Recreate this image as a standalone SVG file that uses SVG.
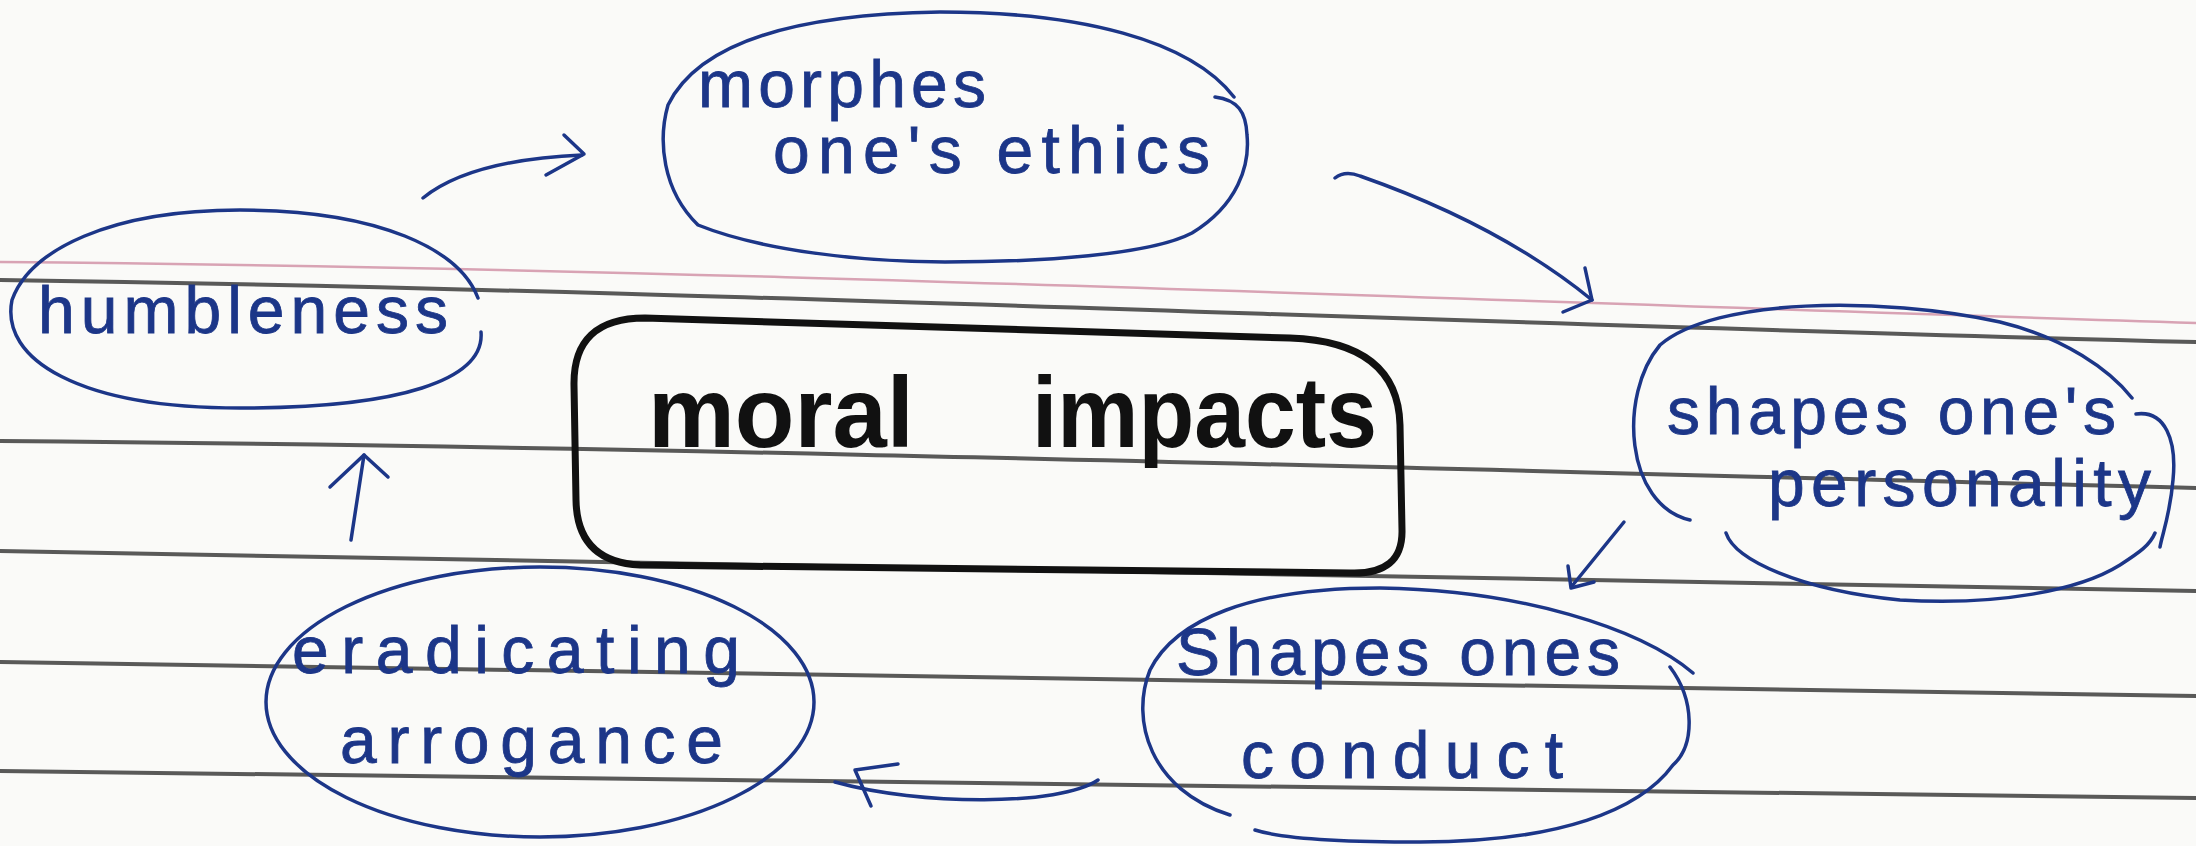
<svg xmlns="http://www.w3.org/2000/svg" width="2196" height="846" viewBox="0 0 2196 846">
<style>
.paper{fill:#fafaf8}
.rule{fill:none;stroke:#3c3c3c;stroke-width:4;stroke-opacity:.85;stroke-linecap:round}
.pink{fill:none;stroke:#d8a3b4;stroke-width:2.5}
.ink{fill:none;stroke:#1c3688;stroke-width:3.5;stroke-linecap:round;stroke-linejoin:round}
.lbl{font-family:"Liberation Sans",Arial,sans-serif;font-size:66px;fill:#1c3688;stroke:#1c3688;stroke-width:0.8}
.main{fill:none;stroke:#111;stroke-width:7;stroke-linecap:round;stroke-linejoin:round}
.mainlbl{font-family:"Liberation Sans",Arial,sans-serif;font-size:100px;font-weight:bold;fill:#111}
</style>
<rect class="paper" x="0" y="0" width="2196" height="846"/>
<g id="paper-lines">
<path class="pink" d="M0,262 C700,268 1400,298 2196,323"/>
<path class="rule" d="M0,280 C700,290 1400,322 2196,342"/>
<path class="rule" d="M0,441 C700,447 1400,468 2196,488"/>
<path class="rule" d="M0,551 C700,562 1400,582 2196,591"/>
<path class="rule" d="M0,662 C700,675 1400,687 2196,696"/>
<path class="rule" d="M0,771 C700,778 1400,790 2196,798"/>
</g>
<g id="connectors">
<path class="ink" d="M423,198 Q470,160 582,155"/>
<path class="ink" d="M564,135 L584,154 L546,175"/>
<path class="ink" d="M1335,178 Q1345,170 1360,176 Q1500,225 1592,300"/>
<path class="ink" d="M1585,268 L1592,300 L1563,312"/>
<path class="ink" d="M1624,522 L1572,586"/>
<path class="ink" d="M1568,566 L1571,588 L1594,582"/>
<path class="ink" d="M1098,780 C1060,806 920,806 835,782"/>
<path class="ink" d="M898,764 L855,770 L871,806"/>
<path class="ink" d="M351,540 L364,455"/>
<path class="ink" d="M330,487 L364,455 L388,477"/>
</g>
<g id="node-humbleness">
<path class="ink" d="M478,298 C460,250 380,210 240,210 C110,210 30,250 12,300 C0,360 80,408 240,408 C400,408 485,380 481,332"/>
<text class="lbl" x="38" y="333" textLength="410" lengthAdjust="spacing">humbleness</text>
</g>
<g id="node-morphes">
<path class="ink" d="M1234,97 C1190,40 1080,12 940,12 C800,14 700,40 668,105 C658,140 662,190 698,225 C760,250 860,262 945,262 C1040,262 1150,255 1192,233 C1238,205 1250,165 1247,135 C1246,112 1238,100 1215,97"/>
<text class="lbl" x="698" y="107" textLength="288" lengthAdjust="spacing">morphes</text>
<text class="lbl" x="773" y="173" textLength="437" lengthAdjust="spacing">one's ethics</text>
</g>
<g id="node-moral-impacts">
<path class="main" d="M645,318 L1290,338 Q1398,342 1400,425 L1402,530 Q1403,575 1350,573 L640,565 Q577,562 576,500 L574,385 Q573,318 645,318 Z"/>
<text class="mainlbl" y="447"><tspan x="648" textLength="266" lengthAdjust="spacingAndGlyphs">moral</tspan> <tspan x="1032" textLength="345" lengthAdjust="spacingAndGlyphs">impacts</tspan></text>
</g>
<g id="node-personality">
<path class="ink" d="M1690,520 C1625,505 1618,395 1660,345 C1715,298 1880,296 2000,322 C2065,338 2110,370 2132,398"/>
<path class="ink" d="M2136,414 C2165,410 2177,440 2173,480 C2170,515 2162,535 2160,547"/>
<path class="ink" d="M1726,533 C1735,560 1800,590 1900,600 C2000,606 2080,590 2120,565 C2140,552 2150,545 2155,533"/>
<text class="lbl" x="1667" y="434" textLength="449" lengthAdjust="spacing">shapes one's</text>
<text class="lbl" x="1768" y="506" textLength="383" lengthAdjust="spacing">personality</text>
</g>
<g id="node-conduct">
<path class="ink" d="M1693,673 C1640,628 1520,590 1380,588 C1250,588 1175,620 1150,670 C1130,720 1150,790 1230,815"/>
<path class="ink" d="M1670,667 C1695,700 1695,745 1673,765 C1640,810 1560,842 1420,842 C1340,842 1280,838 1255,830"/>
<text class="lbl" x="1176" y="675" textLength="444" lengthAdjust="spacing">Shapes ones</text>
<text class="lbl" x="1241" y="778" textLength="322" lengthAdjust="spacing">conduct</text>
</g>
<g id="node-arrogance">
<ellipse class="ink" cx="540" cy="702" rx="274" ry="135"/>
<text class="lbl" x="292" y="673" textLength="448" lengthAdjust="spacing">eradicating</text>
<text class="lbl" x="340" y="763" textLength="383" lengthAdjust="spacing">arrogance</text>
</g>
</svg>
